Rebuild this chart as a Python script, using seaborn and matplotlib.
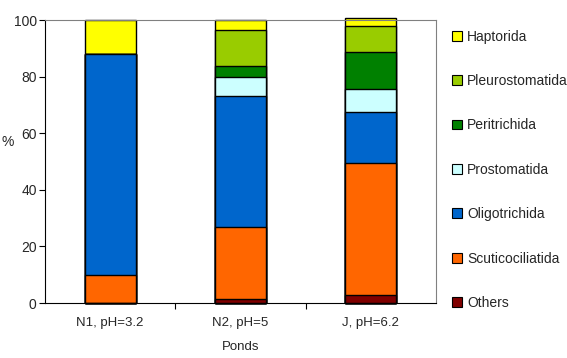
import matplotlib
matplotlib.use("Agg")
import matplotlib.pyplot as plt
import seaborn as sns
import pandas as pd
from matplotlib.patches import Patch

ponds = ["N1, pH=3.2", "N2, pH=5", "J, pH=6.2"]
groups = ["Others", "Scuticociliatida", "Oligotrichida", "Prostomatida",
          "Peritrichida", "Pleurostomatida", "Haptorida"]
others = [0, 1.3, 2.8]
scutico = [10.0, 25.4, 46.8]
oligo = [78.0, 46.4, 17.9]
prosto = [0, 6.9, 8.2]
peri = [0, 3.7, 13.0]
pleuro = [0, 12.8, 9.3]
hapto = [12.0, 3.5, 2.7]
colors = ["#800000", "#FF6600", "#0066CC", "#CCFFFF", "#008000", "#99CC00", "#FFFF00"]

df = pd.DataFrame({"Pond": ponds, "Others": others, "Scuticociliatida": scutico,
                   "Oligotrichida": oligo, "Prostomatida": prosto,
                   "Peritrichida": peri, "Pleurostomatida": pleuro, "Haptorida": hapto})
cum = df[groups].cumsum(axis=1)
cum["Pond"] = df["Pond"]

sns.set_style("white")
plt.rcParams['font.family'] = ['Liberation Sans', 'DejaVu Sans']
plt.rcParams['font.size'] = 10

fig = plt.figure(figsize=(5.67, 3.58), dpi=100)
ax = fig.add_axes([0.0794, 0.1536, 0.6896, 0.7905])

# stacked bars: draw the cumulative totals from the top group down
for g, c in reversed(list(zip(groups, colors))):
    sns.barplot(data=cum, x="Pond", y=g, color=c, width=0.39, edgecolor="black",
                linewidth=1.0, saturation=1, ax=ax, zorder=2)
for p in ax.patches:
    p.set_clip_on(False)

ax.set_ylim(0, 100)
ax.set_xlim(-0.5, 2.5)
ax.set_yticks([0, 20, 40, 60, 80, 100])
ax.set_xticks([0.5, 1.5], minor=True)
ax.tick_params(axis="x", which="major", length=0, pad=10, labelsize=9.5)
ax.tick_params(axis="x", which="minor", length=4, width=0.8, direction="out", color="black")
ax.tick_params(axis="y", length=4, width=0.8, direction="out", color="black", pad=2, labelsize=10)
ax.xaxis.set_tick_params(which="minor", bottom=True)
ax.yaxis.set_tick_params(left=True)

for s in ["top", "right"]:
    ax.spines[s].set_color("#808080")
    ax.spines[s].set_linewidth(0.8)
for s in ["left", "bottom"]:
    ax.spines[s].set_color("black")
    ax.spines[s].set_linewidth(0.8)
ax.spines["bottom"].set_zorder(3)

ax.set_xlabel("Ponds", fontsize=9.5, labelpad=9)
ax.set_ylabel("%", fontsize=10, rotation=0, va="center", ha="center")
ax.yaxis.set_label_coords(-0.095, 0.57)

handles = [Patch(facecolor=c, edgecolor="black", linewidth=0.8, label=g)
           for g, c in zip(groups, colors)]
handles = handles[::-1]
fig.legend(handles=handles, loc="upper left", bbox_to_anchor=(0.788, 0.933),
           frameon=False, fontsize=10, handlelength=0.7, handleheight=0.7,
           handletextpad=0.35, labelspacing=2.19, borderaxespad=0)

fig.savefig("out.png", dpi=100)
